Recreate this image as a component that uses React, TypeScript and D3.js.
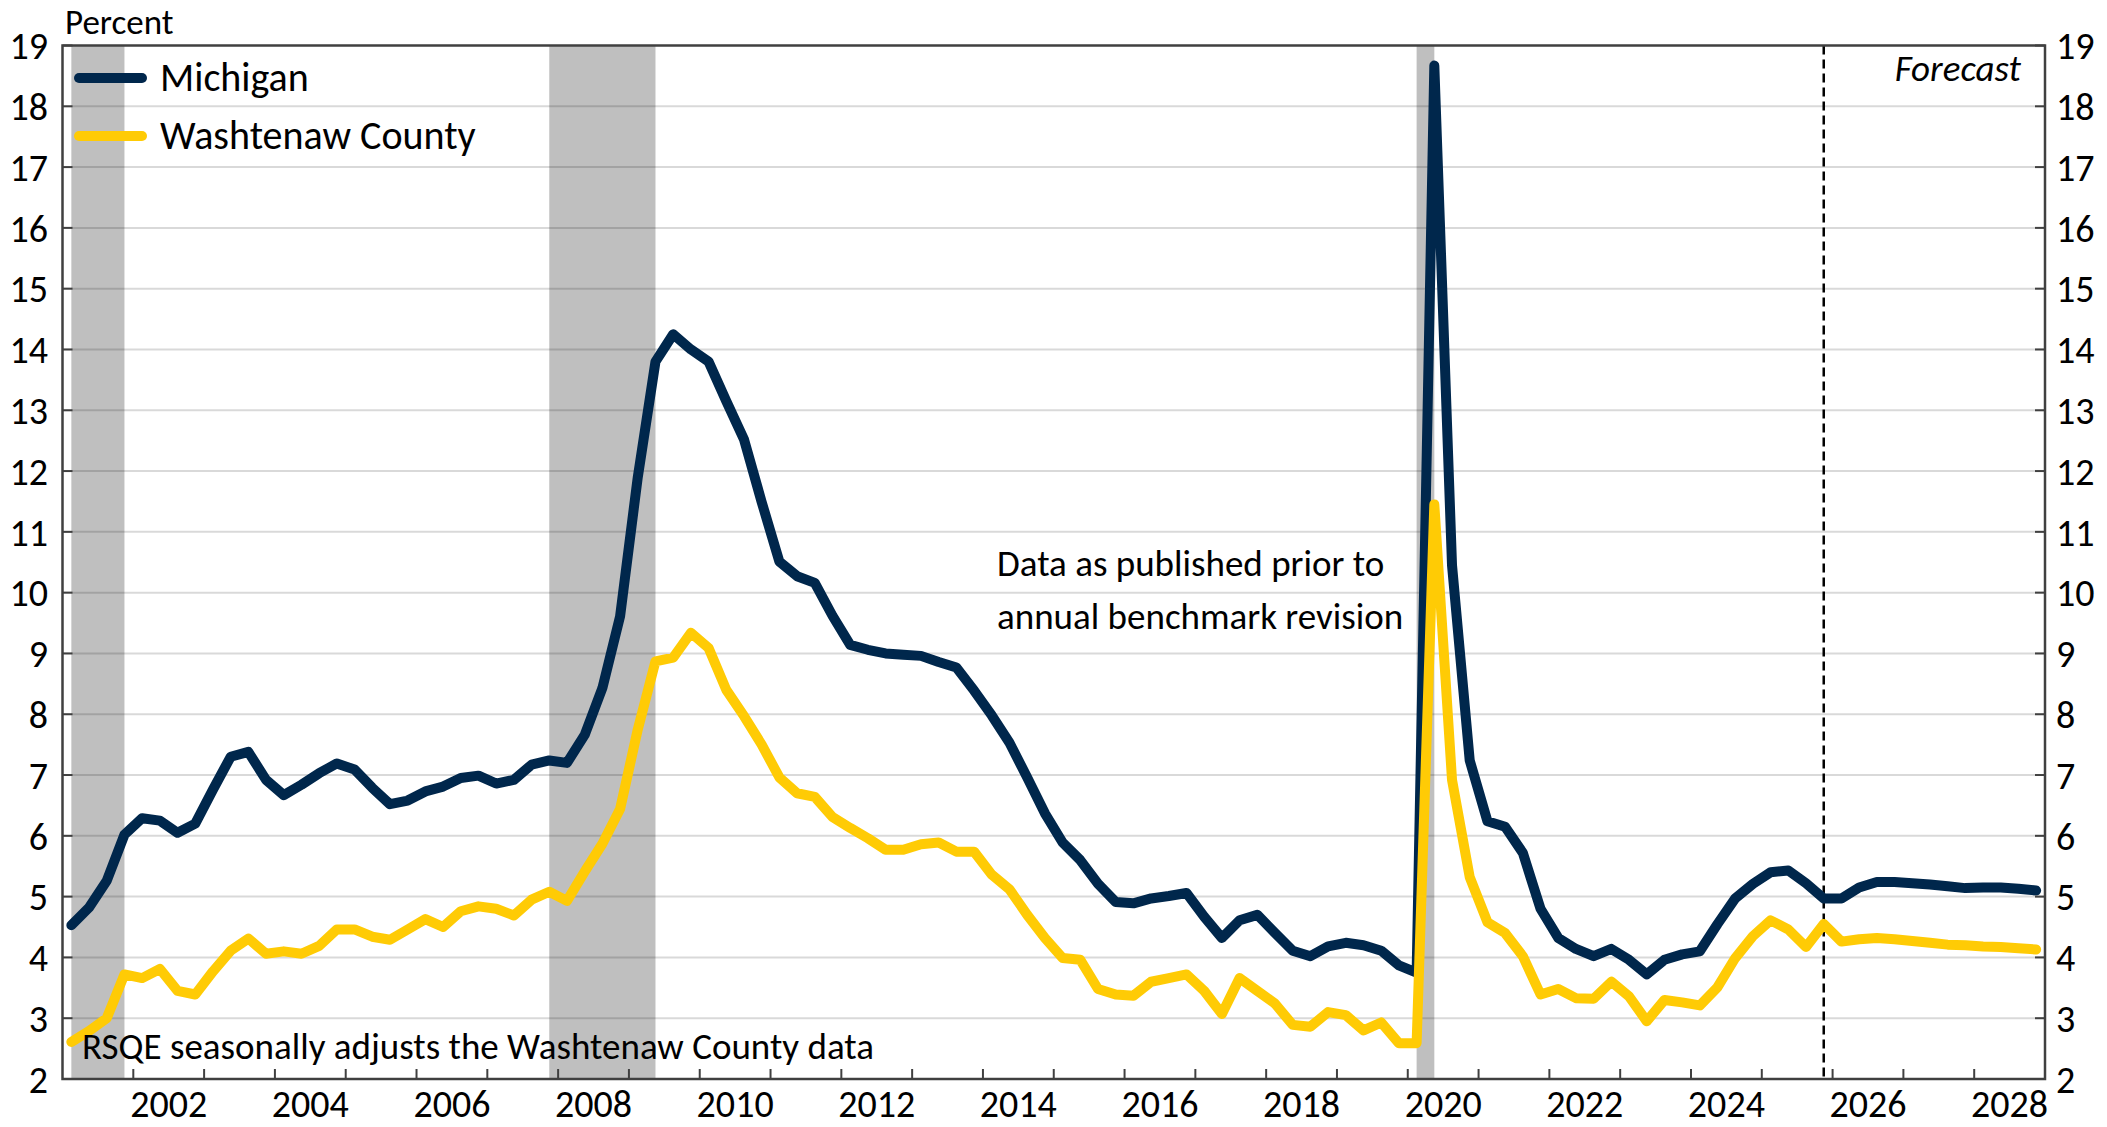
import React, { useEffect } from 'react';
import * as d3 from 'd3';

// Quarterly unemployment rate, 2001Q1 - 2028Q4 (forecast from 2026Q1)
const years = [
  2001, 2002, 2003, 2004, 2005, 2006, 2007, 2008, 2009, 2010, 2011, 2012, 2013, 2014,
  2015, 2016, 2017, 2018, 2019, 2020, 2021, 2022, 2023, 2024, 2025, 2026, 2027, 2028,
];

const michigan = [
  4.53, 4.82, 5.26, 6.02,
  6.29, 6.25, 6.05, 6.2,
  6.76, 7.3, 7.38, 6.92,
  6.67, 6.84, 7.03, 7.19,
  7.09, 6.79, 6.52, 6.58,
  6.73, 6.81, 6.95, 6.99,
  6.86, 6.92, 7.17, 7.24,
  7.2, 7.66, 8.43, 9.61,
  11.9, 13.8, 14.25, 14.0,
  13.8, 13.15, 12.52, 11.49,
  10.51, 10.27, 10.16, 9.62,
  9.14, 9.06, 9.0, 8.98,
  8.96, 8.86, 8.77, 8.39,
  7.98, 7.53, 6.96, 6.37,
  5.89, 5.6, 5.21, 4.91,
  4.89, 4.97, 5.01, 5.06,
  4.67, 4.32, 4.61, 4.7,
  4.4, 4.11, 4.02, 4.18,
  4.24, 4.2, 4.11, 3.87,
  3.75, 18.67, 10.45, 7.24,
  6.24, 6.15, 5.72, 4.8,
  4.32, 4.14, 4.02, 4.14,
  3.96, 3.72, 3.96, 4.05,
  4.1, 4.55, 4.97, 5.21,
  5.4, 5.43, 5.22, 4.97,
  4.97, 5.15, 5.24, 5.24,
  5.22, 5.2, 5.17, 5.14,
  5.15, 5.15, 5.13, 5.1,
];

const washtenaw = [
  2.61, 2.79, 3.0, 3.72,
  3.66, 3.81, 3.45, 3.39,
  3.77, 4.11, 4.31, 4.06,
  4.1, 4.06, 4.19, 4.46,
  4.46, 4.34, 4.29, 4.46,
  4.63, 4.5, 4.76, 4.84,
  4.8, 4.69, 4.95, 5.08,
  4.93, 5.41, 5.87, 6.44,
  7.75, 8.87, 8.93, 9.34,
  9.09, 8.4, 7.97, 7.5,
  6.96, 6.7, 6.64, 6.31,
  6.13, 5.96, 5.77, 5.77,
  5.86, 5.89, 5.74, 5.74,
  5.36, 5.12, 4.7, 4.32,
  3.99, 3.96, 3.48, 3.39,
  3.37, 3.6, 3.66, 3.72,
  3.45, 3.07, 3.66, 3.45,
  3.24, 2.89, 2.86, 3.1,
  3.05, 2.8, 2.93, 2.59,
  2.59, 11.45, 6.92, 5.32,
  4.58, 4.4, 4.02, 3.39,
  3.48, 3.33, 3.32, 3.6,
  3.36, 2.95, 3.3, 3.26,
  3.21, 3.51, 3.99, 4.35,
  4.61, 4.46, 4.17, 4.55,
  4.26, 4.3, 4.32, 4.3,
  4.27, 4.24, 4.21, 4.2,
  4.18, 4.17, 4.15, 4.13,
];

// recessions as [first quarter, last quarter]
const recessions = [
  ['2001Q1', '2001Q4'],
  ['2007Q4', '2009Q2'],
  ['2020Q1', '2020Q2'],
];
const lastActual = '2025Q4';

const yTicks = [2, 3, 4, 5, 6, 7, 8, 9, 10, 11, 12, 13, 14, 15, 16, 17, 18, 19];
const yearTicks = years.slice(1);
const yearLabels = [2002, 2004, 2006, 2008, 2010, 2012, 2014, 2016, 2018, 2020, 2022, 2024, 2026, 2028];

const quarters = years.flatMap(y => [1, 2, 3, 4].map(q => `${y}Q${q}`));
// position of a quarter in fractional years (mid-quarter)
const qTime = (label: string) => {
  const [y, q] = label.split('Q').map(Number);
  return y + (q - 0.5) / 4;
};

const WIDTH = 2107;
const HEIGHT = 1127;
const left = 62.5;
const right = 2045;
const top = 45.5;
const bottom = 1079;

const FONT = 'Calibri, Carlito, Lato, sans-serif';
const NAVY = '#00274C';
const MAIZE = '#FFCB05';
const TICK_SIZE = 38;
const NOTE_SIZE = 37;

export default function App() {
  useEffect(() => {
    document.body.style.margin = '0';
  }, []);

  const x = d3.scaleLinear().domain([2001, 2029]).range([left, right]);
  const y = d3.scaleLinear().domain([2, 19]).range([bottom, top]);

  const line = d3
    .line<number>()
    .x((_, i) => x(qTime(quarters[i])))
    .y(d => y(d));

  const fx = x(qTime(lastActual));

  return (
    <svg width={WIDTH} height={HEIGHT} style={{ display: 'block', fontFamily: FONT }}>
      <rect width={WIDTH} height={HEIGHT} fill="#fff" />

      {/* recession shading */}
      {recessions.map(([a, b]) => (
        <rect
          key={a}
          x={x(qTime(a))}
          y={top}
          width={x(qTime(b)) - x(qTime(a))}
          height={bottom - top}
          fill="#BFBFBF"
        />
      ))}

      {/* gridlines */}
      {yTicks.slice(1, -1).map(t => (
        <line key={t} x1={left} x2={right} y1={y(t)} y2={y(t)} stroke="rgba(0,0,0,0.15)" strokeWidth={2} />
      ))}

      {/* forecast divider */}
      <line x1={fx} x2={fx} y1={top} y2={bottom} stroke="#000" strokeWidth={2.5} strokeDasharray="9,5" />

      <path d={line(michigan) ?? ''} fill="none" stroke={NAVY} strokeWidth={10} strokeLinejoin="round" strokeLinecap="round" />
      <path d={line(washtenaw) ?? ''} fill="none" stroke={MAIZE} strokeWidth={10} strokeLinejoin="round" strokeLinecap="round" />

      {/* frame */}
      <rect x={left} y={top} width={right - left} height={bottom - top} fill="none" stroke="#404040" strokeWidth={2.5} />

      {/* y ticks + labels on both sides */}
      {yTicks.map(t => (
        <g key={t}>
          <line x1={left} x2={left + 10} y1={y(t)} y2={y(t)} stroke="#404040" strokeWidth={2} />
          <line x1={right - 10} x2={right} y1={y(t)} y2={y(t)} stroke="#404040" strokeWidth={2} />
          <text x={48} y={y(t)} dy="0.36em" textAnchor="end" fontSize={TICK_SIZE} fill="#000">{t}</text>
          <text x={2056} y={y(t)} dy="0.36em" textAnchor="start" fontSize={TICK_SIZE} fill="#000">{t}</text>
        </g>
      ))}

      {/* x ticks at year boundaries, labels centred on the year */}
      {yearTicks.map(yr => (
        <line key={yr} x1={x(yr)} x2={x(yr)} y1={bottom - 10} y2={bottom} stroke="#404040" strokeWidth={2} />
      ))}
      {yearLabels.map(yr => (
        <text key={yr} x={x(yr + 0.5)} y={1117} textAnchor="middle" fontSize={TICK_SIZE} fill="#000">{yr}</text>
      ))}

      <text x={65} y={34} fontSize={35} fill="#000">Percent</text>

      {/* legend */}
      <line x1={79} x2={142} y1={78} y2={78} stroke={NAVY} strokeWidth={10} strokeLinecap="round" />
      <text x={160} y={91} fontSize={40} fill="#000">Michigan</text>
      <line x1={79} x2={142} y1={136} y2={136} stroke={MAIZE} strokeWidth={10} strokeLinecap="round" />
      <text x={160} y={149} fontSize={40} fill="#000">Washtenaw County</text>

      <text x={2021} y={81} fontSize={NOTE_SIZE} fontStyle="italic" textAnchor="end" fill="#000">Forecast</text>

      <text x={997} y={576} fontSize={NOTE_SIZE} fill="#000">Data as published prior to</text>
      <text x={997} y={629} fontSize={NOTE_SIZE} fill="#000">annual benchmark revision</text>

      <text x={82} y={1059} fontSize={NOTE_SIZE} fill="#000">RSQE seasonally adjusts the Washtenaw County data</text>
    </svg>
  );
}
